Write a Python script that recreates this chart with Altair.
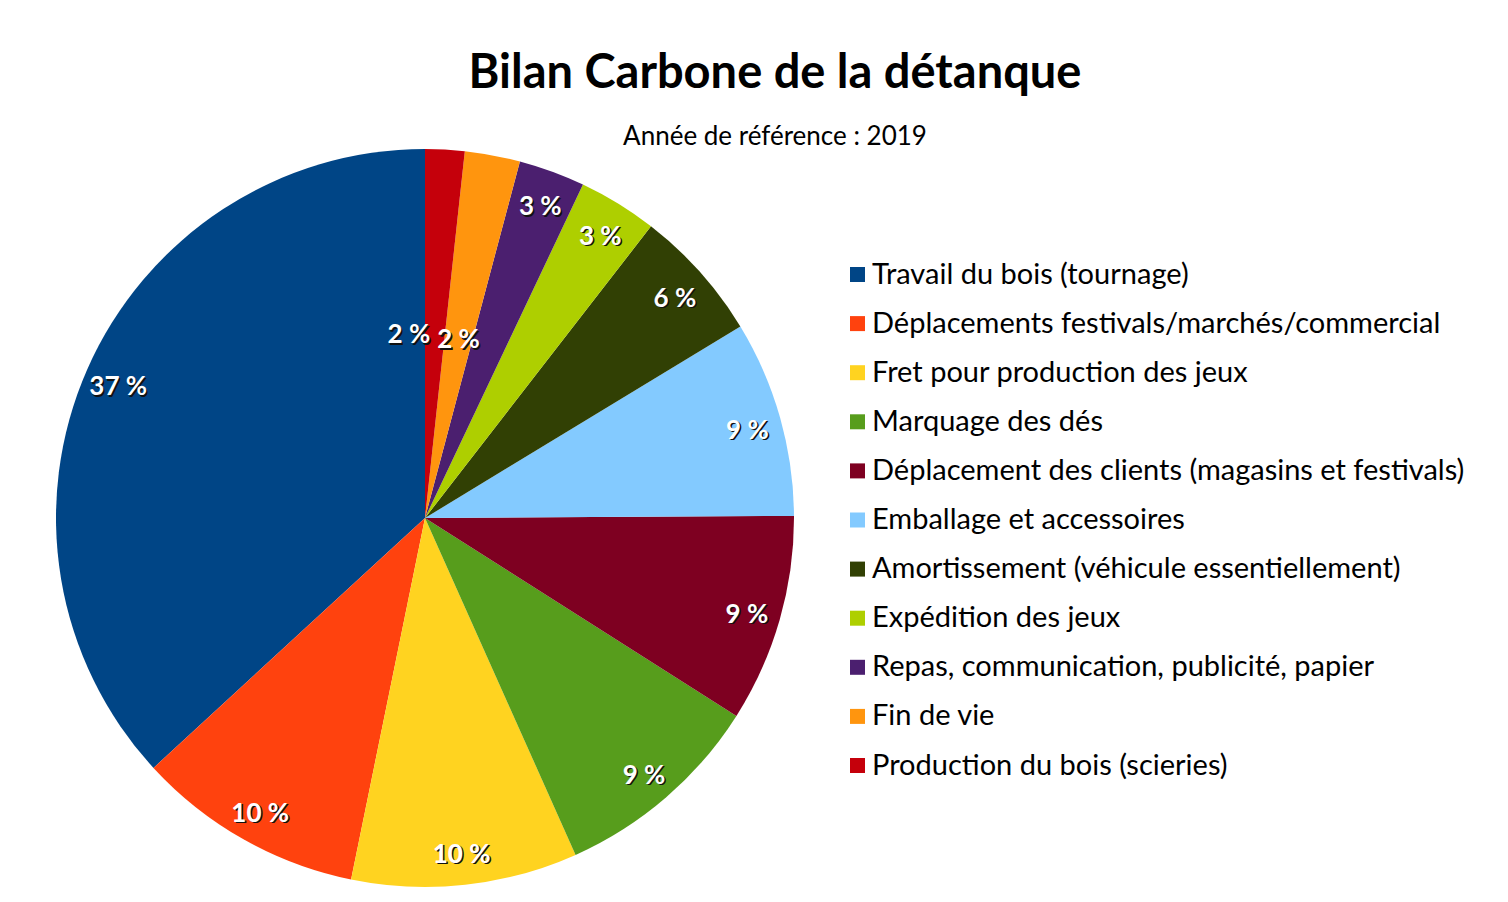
import math
import altair as alt
import pandas as pd

categories = [
    "Travail du bois (tournage)",
    "Déplacements  festivals/marchés/commercial",
    "Fret pour production des jeux",
    "Marquage des dés",
    "Déplacement des clients (magasins et festivals)",
    "Emballage et accessoires",
    "Amortissement (véhicule essentiellement)",
    "Expédition des jeux",
    "Repas, communication, publicité, papier",
    "Fin de vie",
    "Production du bois (scieries)",
]
values = [36.84, 9.95, 9.9, 9.3, 9.1, 8.6, 5.82, 3.45, 2.9, 2.42, 1.72]
colors = [
    "#004586", "#FF420E", "#FFD320", "#579D1C", "#7E0021", "#83CAFF",
    "#314004", "#AECF00", "#4B1F6F", "#FF950E", "#C5000B",
]

n = len(categories)
df = pd.DataFrame({
    "categorie": categories,
    "valeur": values,
    "ord": list(range(n - 1, -1, -1)),
    "label": [f"{round(v)} %" for v in values],
})

theta_scale = alt.Scale(domain=[0, 100], range=[0, 2 * math.pi])
CX, CY = 417, 360
LEGEND_FONT = 29

base = alt.Chart(df).transform_window(
    cum="sum(valeur)",
    sort=[alt.SortField("ord", order="ascending")],
    frame=[None, 0],
).transform_calculate(
    debut="datum.cum - datum.valeur",
    milieu="datum.cum - datum.valeur / 2",
)

arcs = base.mark_arc(outerRadius=369, innerRadius=0).encode(
    theta=alt.Theta("debut:Q", scale=theta_scale),
    theta2="cum:Q",
    color=alt.Color(
        "categorie:N",
        scale=alt.Scale(domain=categories, range=colors),
        legend=alt.Legend(
            title=None, orient="none", legendX=835, legendY=102,
            symbolType="square", symbolSize=225, symbolStrokeWidth=0,
            symbolOpacity=1, labelFontSize=LEGEND_FONT, labelFont="Lato",
            labelColor="black", labelOffset=0,
            rowPadding=19.1, padding=0,
            labelLimit=800,
        ),
    ),
    x=alt.value(CX),
    y=alt.value(CY),
)


def label_layers(expr, radius, dx, dy):
    common = dict(radius=radius, font="Lato", fontSize=26, fontWeight="bold",
                  align="center", baseline="middle")
    enc = dict(
        theta=alt.Theta("milieu:Q", scale=theta_scale),
        text="label:N",
        x=alt.value(CX),
        y=alt.value(CY),
    )
    shadow = base.transform_filter(expr).mark_text(
        dx=dx + 1.5, dy=dy + 1.5, color="#111111", **common).encode(**enc)
    front = base.transform_filter(expr).mark_text(
        dx=dx, dy=dy, color="white", **common).encode(**enc)
    return [shadow, front]


layers = [arcs]
layers += label_layers("datum.valeur >= 2.5", 335, 0, 4)
layers += label_layers("datum.categorie == 'Fin de vie'", 183, 0, 2)
layers += label_layers("datum.categorie == 'Production du bois (scieries)'", 183, -26, 0)

chart = alt.layer(*layers).properties(
    width=1492,
    height=736,
    autosize=alt.AutoSizeParams(type="none"),
    padding={"left": 0, "top": 150, "right": 0, "bottom": 0},
    background="white",
    title=alt.TitleParams(
        text="Bilan Carbone de la détanque",
        subtitle="Année de référence : 2019",
        font="Lato", fontSize=47, fontWeight="bold", color="black",
        subtitleFont="Lato", subtitleFontSize=26, subtitleColor="black",
        anchor="middle", dx=21, offset=-2, subtitlePadding=26,
    ),
).configure_view(stroke=None)

chart.save("out.html", embed_options={"renderer": "svg", "actions": False})
